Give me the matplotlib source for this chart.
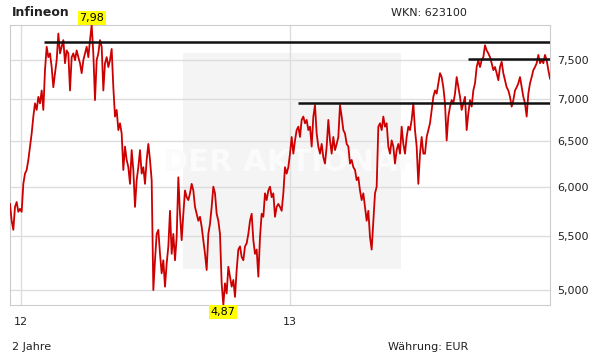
import matplotlib
matplotlib.use("Agg")
import matplotlib.pyplot as plt
import matplotlib.ticker as mticker
from matplotlib.patches import Rectangle
import pandas as pd

# Infineon closing prices (EUR), evenly spaced in time
prices = [
    # Dec 2011 - Apr 2012
    5.82, 5.65, 5.56, 5.79, 5.84, 5.74, 5.77, 5.74, 6.03, 6.14, 6.18, 6.29,
    6.44, 6.59, 6.79, 6.95, 6.87, 7.03, 6.95, 7.11, 6.87, 7.37, 7.68, 7.54,
    7.59, 7.41, 7.15, 7.33, 7.50, 7.86, 7.59, 7.68, 7.77, 7.46, 7.63, 7.59,
    7.11, 7.54, 7.59, 7.50, 7.63, 7.54, 7.46, 7.33, 7.50, 7.59, 7.68, 7.54,
    7.77, 7.98, 7.59, 6.99, 7.50,
    # May - Aug 2012
    7.59, 7.77, 7.68, 7.11, 7.46, 7.54, 7.41, 7.50, 7.65, 7.15, 6.79, 6.87,
    6.63, 6.71, 6.59, 6.18, 6.44, 6.29, 6.21, 6.03, 6.40, 6.18, 5.79, 6.07,
    6.21, 6.40, 6.14, 6.21, 6.03, 6.29, 6.47, 6.29, 6.07, 5.00, 5.27, 5.52,
    5.56, 5.33, 5.15, 5.27, 5.03, 5.24, 5.40, 5.75, 5.33, 5.52, 5.27, 5.49,
    6.10, 5.72, 5.46, 5.72, 5.96, 5.89,
    # Sep - Dec 2012
    5.86, 5.93, 6.03, 5.96, 5.79, 5.72, 5.65, 5.69, 5.59, 5.46, 5.33, 5.18,
    5.52, 5.62, 5.79, 6.00, 5.93, 5.72, 5.65, 5.52, 5.06, 4.87, 5.06, 4.97,
    5.21, 5.12, 5.03, 5.09, 4.94, 5.18, 5.37, 5.40, 5.30, 5.27, 5.40, 5.43,
    5.52, 5.65, 5.72, 5.46, 5.33, 5.37, 5.12, 5.49, 5.72, 5.69, 5.93, 5.86,
    5.96, 6.00, 5.89, 5.93, 5.69, 5.79,
    # Jan - Apr 2013
    5.82, 5.79, 5.75, 5.93, 6.21, 6.14, 6.21, 6.36, 6.55, 6.36, 6.51, 6.63,
    6.67, 6.55, 6.75, 6.79, 6.71, 6.75, 6.63, 6.67, 6.44, 6.79, 6.93, 6.59,
    6.44, 6.36, 6.47, 6.32, 6.25, 6.44, 6.75, 6.51, 6.36, 6.55, 6.40, 6.47,
    6.55, 6.93, 6.79, 6.63, 6.59, 6.47, 6.44, 6.25, 6.29, 6.21, 6.18, 6.07,
    6.10, 5.96, 5.86, 5.93, 5.79, 5.65,
    # May - Aug 2013
    5.75, 5.49, 5.37, 5.65, 5.93, 6.00, 6.67, 6.71, 6.63, 6.79, 6.67, 6.71,
    6.44, 6.36, 6.51, 6.44, 6.25, 6.40, 6.47, 6.36, 6.67, 6.47, 6.36, 6.55,
    6.67, 6.63, 6.75, 6.95, 6.63, 6.44, 6.03, 6.36, 6.55, 6.36, 6.36, 6.55,
    6.63, 6.71, 6.87, 7.03, 7.11, 7.07, 7.20, 7.33, 7.28, 7.15, 6.95, 6.51,
    6.79, 6.91, 6.99, 6.95, 7.07, 7.28,
    # Sep - Dec 2013
    7.15, 7.03, 6.87, 6.95, 7.03, 6.63, 6.83, 6.99, 6.91, 7.11, 7.20, 7.41,
    7.50, 7.41, 7.50, 7.54, 7.70, 7.63, 7.59, 7.54, 7.46, 7.37, 7.41, 7.33,
    7.24, 7.41, 7.48, 7.33, 7.24, 7.15, 7.11, 7.03, 6.91, 6.99, 7.11, 7.15,
    7.20, 7.28, 7.15, 7.03, 6.95, 6.79, 7.07, 7.20, 7.28, 7.37, 7.41, 7.46,
    7.57, 7.46, 7.50, 7.46, 7.57, 7.50, 7.37, 7.26,
]
start_date, end_date = "2011-12-17", "2013-12-20"

# drawn-in resistance / support lines: (level, start date)
levels = [7.74, 7.51, 6.95]
level_starts = ["2012-02-01", "2013-08-30", "2013-01-12"]

y_ticks = [5.0, 5.5, 6.0, 6.5, 7.0, 7.5]
x_ticks = ["2012-01-01", "2013-01-01"]
x_labels = ["12", "13"]

dates = pd.date_range(start_date, end_date, periods=len(prices))
s = pd.Series(prices, index=dates)

plt.rcParams["font.family"] = "DejaVu Sans"
fig = plt.figure(figsize=(6.11, 3.64), dpi=100)
ax = fig.add_axes([10 / 611, 59 / 364, 540 / 611, 280 / 364])

# watermark box
ax.add_patch(Rectangle((0.32, 0.129), 0.404, 0.771, transform=ax.transAxes,
                       facecolor="#f4f4f4", edgecolor="none", zorder=0))
ax.text(0.522, 0.51, "DER AKTIONÄR", transform=ax.transAxes, ha="center",
        va="center", fontsize=22, fontweight="bold", color="#fbfbfb", zorder=1)

ax.plot(s.index, s.values, color="#cc0000", lw=1.3, zorder=3)
for lvl, st in zip(levels, level_starts):
    ax.hlines(lvl, pd.Timestamp(st), dates[-1], color="#111111", lw=1.8, zorder=4)

ax.set_yscale("log")
ax.set_ylim(min(prices), max(prices))
ax.set_xlim(dates[0], dates[-1])
ax.yaxis.set_major_locator(mticker.FixedLocator(y_ticks))
ax.yaxis.set_minor_locator(mticker.NullLocator())
ax.yaxis.set_major_formatter(mticker.FuncFormatter(lambda v, _: f"{v:.3f}".replace(".", ",")))
ax.yaxis.tick_right()
ax.set_xticks(pd.to_datetime(x_ticks))
ax.set_xticklabels(x_labels)
ax.xaxis.set_minor_locator(mticker.NullLocator())
ax.tick_params(axis="y", length=0, pad=5, labelsize=8, colors="#222222")
ax.tick_params(axis="x", length=0, pad=8.5, labelsize=8, colors="#222222")
ax.grid(True, color="#dddddd", lw=1, zorder=0)
ax.set_axisbelow(True)
for sp in ax.spines.values():
    sp.set_color("#cccccc")

# max / min labels
box = dict(boxstyle="square,pad=0.15", facecolor="#ffff00", edgecolor="none")
ax.annotate(f"{s.max():.2f}".replace(".", ","), (s.idxmax(), s.max()),
            xytext=(0, 1.5), textcoords="offset points", ha="center", va="bottom",
            fontsize=8, bbox=box, annotation_clip=False, zorder=5)
ax.annotate(f"{s.min():.2f}".replace(".", ","), (s.idxmin(), s.min()),
            xytext=(0, -1.5), textcoords="offset points", ha="center", va="top",
            fontsize=8, bbox=box, annotation_clip=False, zorder=5)

fig.text(12 / 611, 1 - 13 / 364, "Infineon", fontsize=9, fontweight="bold",
         va="center", color="#222222")
fig.text(391 / 611, 1 - 13 / 364, "WKN: 623100", fontsize=8, va="center", color="#222222")
fig.text(12 / 611, 1 - 347 / 364, "2 Jahre", fontsize=8, va="center", color="#222222")
fig.text(388 / 611, 1 - 347 / 364, "Währung: EUR", fontsize=8, va="center", color="#222222")

fig.savefig("out.png", dpi=100)
